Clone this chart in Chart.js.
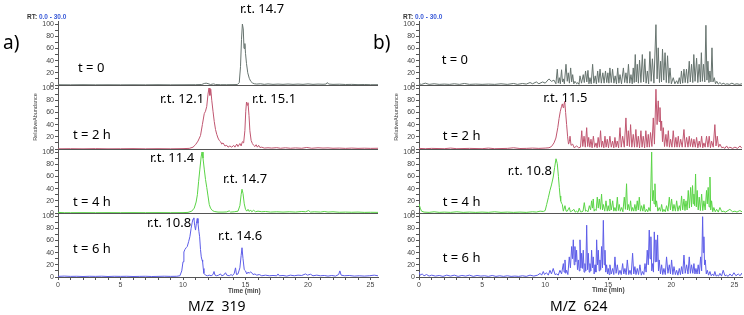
<!DOCTYPE html>
<html>
<head>
<meta charset="utf-8">
<script src="https://cdn.jsdelivr.net/npm/chart.js@4.4.1/dist/chart.umd.min.js"></script>
<style>
  body { margin: 0; background: #fff; width: 744px; height: 315px; position: relative; overflow: hidden; font-family: "Noto Sans", sans-serif; }
  canvas { position: absolute; top: 0; }
  #chartA { left: 0; }
  #chartB { left: 380px; }
  .txt { position: absolute; white-space: nowrap; line-height: 1; color: #000; }
  .panel { font-size: 19px; }
  .rt { font-family: "Liberation Sans", sans-serif; font-size: 6.5px; font-weight: bold; color: #333; }
  .rt span { color: #3b5bd8; }
  .time { font-family: "Liberation Sans", sans-serif; font-size: 6.5px; font-weight: bold; color: #444; }
  .mz { font-size: 14px; word-spacing: 4px; }
</style>
</head>
<body>
<canvas id="chartA" width="380" height="315"></canvas>
<canvas id="chartB" width="364" height="315"></canvas>

<div class="txt panel" style="left:3px;top:33px">a)</div>
<div class="txt panel" style="left:373px;top:33px">b)</div>
<div class="txt rt" style="left:27px;top:14px">RT: <span>0.0 - 30.0</span></div>
<div class="txt rt" style="left:403px;top:14px">RT: <span>0.0 - 30.0</span></div>
<div class="txt time" style="left:228px;top:288px">Time (min)</div>
<div class="txt time" style="left:592px;top:287px">Time (min)</div>
<div class="txt mz" style="left:188px;top:299px">M/Z 319</div>
<div class="txt mz" style="left:550px;top:299px">M/Z 624</div>

<script>
// retention time (min), relative abundance (%)

// M/Z 319
const a0 = [[0,0.4],[1,0.3],[2,0.5],[3,0.3],[4,0.4],[5,0.3],[6,0.4],[7,0.3],[8,0.5],[9,0.3],[10,0.4],[11,0.5],[11.5,0.8],[11.7,2.5],[11.85,3],[12.0,2.2],[12.2,0.8],[12.45,1.8],[12.6,0.8],[13,0.5],[13.5,0.5],[14,0.6],[14.35,0.8],[14.5,4],[14.6,30],[14.68,75],[14.75,100],[14.82,92],[14.88,60],[14.95,68],[15.0,52],[15.08,35],[15.18,20],[15.3,11],[15.42,6],[15.55,3.5],[15.7,2],[15.9,1.5],[16.2,2],[16.5,1],[16.8,1.8],[17.2,1],[17.6,1.5],[18,1],[18.4,1.6],[18.8,1],[19.2,1.5],[19.6,1],[20,1.8],[20.4,1],[20.8,1.5],[21.2,1.2],[21.45,1.5],[21.55,4],[21.65,1.5],[22,1],[22.5,1.3],[23,0.8],[23.5,1],[24,0.6],[24.5,0.8],[25,0.5],[25.6,0.5]];
const a1 = [[0,0.3],[1,0.5],[2,0.3],[3,0.6],[4,0.3],[5,0.4],[6,0.6],[7,0.3],[8,0.5],[9,0.3],[10,0.6],[10.5,1],[10.8,3],[11.0,7],[11.2,13],[11.4,22],[11.55,40],[11.7,58],[11.8,62],[11.9,70],[12.0,90],[12.08,100],[12.15,88],[12.22,98],[12.3,80],[12.4,62],[12.5,45],[12.6,32],[12.7,24],[12.8,18],[12.9,14],[13.0,12],[13.1,8],[13.2,10],[13.35,5],[13.5,6],[13.6,3],[13.75,5],[13.9,3],[14.05,6],[14.15,3],[14.3,8],[14.4,4],[14.55,9],[14.65,5],[14.75,12],[14.85,10],[14.95,30],[15.02,62],[15.08,77],[15.13,72],[15.2,76],[15.28,55],[15.35,30],[15.45,14],[15.55,9],[15.65,6],[15.75,4],[15.85,7],[15.95,3],[16.05,6],[16.15,2.5],[16.3,3],[16.5,1.5],[16.8,2],[17.1,1.5],[17.5,2.2],[17.8,1.2],[18.2,2],[18.6,1.2],[19,1.8],[19.5,1.2],[19.9,2.5],[20.3,1.2],[20.8,2],[21.2,1.5],[21.6,1.8],[22,1.2],[22.5,1.5],[23,1],[23.5,1.5],[24,1],[24.5,1.3],[25,1],[25.6,1.2]];
const a2 = [[0,1],[0.5,0.5],[1,0.5],[2,0.6],[3,0.5],[4,0.6],[5,0.5],[6,0.6],[7,0.5],[8,0.6],[9,0.5],[10,0.6],[10.4,1],[10.7,3],[10.9,8],[11.05,18],[11.15,30],[11.25,52],[11.35,72],[11.45,92],[11.52,100],[11.6,90],[11.7,72],[11.8,55],[11.9,42],[12.0,28],[12.1,14],[12.2,8],[12.35,4],[12.5,2.5],[12.8,1.5],[13.2,1.5],[13.5,1.8],[13.7,3.5],[13.8,1.5],[14.1,2],[14.4,3],[14.55,12],[14.65,30],[14.72,39],[14.8,32],[14.9,15],[15.0,6],[15.1,3],[15.2,6],[15.3,2.5],[15.4,5],[15.5,2],[15.65,4.5],[15.8,2],[16.0,3],[16.3,2],[16.6,2.5],[17,1.5],[17.5,2],[18,1.5],[18.5,2],[19,1.5],[19.5,2.5],[19.8,2],[20.05,4],[20.2,1.5],[20.5,2],[21,1.5],[21.3,2.5],[21.6,1.5],[22,2],[22.5,1.2],[23,1.5],[23.5,1.2],[24,1.5],[24.5,1],[25,1.2],[25.6,1]];
const a3 = [[0,1],[0.5,1.5],[1,1],[1.5,1.2],[2,0.8],[2.5,1.2],[3,1],[3.5,1.3],[4,0.8],[4.5,1.2],[5,1],[5.5,1.2],[6,0.8],[6.5,1],[7,1.2],[7.5,0.8],[8,1],[8.5,1.3],[9,1],[9.5,1.2],[9.75,2],[9.9,10],[10.0,25],[10.07,41],[10.15,45],[10.25,48],[10.34,50],[10.45,58],[10.55,66],[10.65,80],[10.74,90],[10.8,95],[10.87,97],[10.93,85],[11.0,77],[11.07,88],[11.14,96],[11.2,88],[11.27,75],[11.33,66],[11.4,45],[11.46,33],[11.52,28],[11.57,25],[11.62,14],[11.67,6],[11.8,3],[11.95,2],[12.1,3],[12.25,2],[12.4,4],[12.48,9],[12.56,3],[12.7,2],[12.85,3],[13.0,5],[13.1,2],[13.25,3],[13.4,7],[13.5,3],[13.7,2],[13.85,4],[13.95,2],[14.1,6],[14.2,15],[14.28,4],[14.4,5],[14.55,15],[14.65,35],[14.72,48],[14.8,30],[14.9,12],[15.0,10],[15.1,5],[15.2,8],[15.3,6],[15.4,8.5],[15.5,7],[15.6,4],[15.75,5],[15.9,3],[16.1,4],[16.3,2],[16.6,3],[16.9,2],[17.2,2.5],[17.5,2],[17.6,5],[17.7,2],[18,2.5],[18.3,1.5],[18.6,3],[18.9,2],[19.2,3],[19.5,2.5],[19.8,5],[19.95,3],[20.2,4.5],[20.4,2],[20.7,3],[21,2],[21.3,2.5],[21.6,1.5],[21.9,2.5],[22.2,1.5],[22.45,4],[22.55,10],[22.65,3],[22.9,2],[23.3,2.5],[23.7,1.5],[24.1,2],[24.5,1.5],[24.9,2],[25.3,3],[25.6,2]];

// M/Z 624
const b0 = [[0,2],[0.2,1],[0.5,3],[0.8,1],[1.2,2],[1.6,1],[2.0,1.5],[2.4,1],[2.8,2],[3.2,1],[3.6,2.5],[4.0,1],[4.5,1.5],[5.0,1],[5.5,1.5],[6.0,1],[6.5,2],[7.0,1],[7.5,2.5],[7.8,1],[8.2,2.5],[8.5,1.5],[8.8,4],[9.0,2],[9.3,5],[9.5,2],[9.8,5],[10.0,3],[10.3,10],[10.5,6],[10.7,8],[10.85,2],[10.96,26],[11.04,3],[11.12,12],[11.2,2],[11.3,25],[11.37,5],[11.44,10],[11.52,2],[11.65,34],[11.75,6],[11.83,20],[11.92,3],[12.02,28],[12.1,5],[12.18,17],[12.27,2],[12.36,6],[12.5,2],[12.6,4],[12.68,1],[12.76,15],[12.88,3],[13.02,17],[13.1,4],[13.2,23],[13.3,5],[13.39,24],[13.47,2],[13.55,12],[13.65,2],[13.76,34],[13.86,3],[13.97,15],[14.06,2],[14.16,23],[14.25,4],[14.35,26],[14.45,3],[14.57,20],[14.67,3],[14.78,23],[14.88,4],[14.97,20],[15.05,3],[15.13,28],[15.24,4],[15.34,26],[15.45,3],[15.55,15],[15.65,2],[15.75,28],[15.84,3],[15.93,17],[16.05,2],[16.2,28],[16.3,4],[16.4,20],[16.5,3],[16.6,34],[16.7,3],[16.8,17],[16.9,2],[16.98,28],[17.06,4],[17.14,50],[17.22,5],[17.3,34],[17.39,3],[17.48,41],[17.59,4],[17.7,50],[17.8,5],[17.9,43],[18.0,3],[18.1,23],[18.2,2],[18.3,55],[18.4,6],[18.5,43],[18.62,3],[18.78,99],[18.87,10],[18.96,61],[19.06,4],[19.15,39],[19.22,5],[19.3,59],[19.4,8],[19.5,53],[19.6,4],[19.7,48],[19.8,3],[19.89,28],[20.0,2],[20.15,12],[20.28,2],[20.42,7],[20.52,2],[20.63,12],[20.72,2],[20.8,23],[20.9,3],[21.0,26],[21.1,4],[21.2,26],[21.3,3],[21.42,39],[21.5,5],[21.6,34],[21.7,4],[21.78,50],[21.88,6],[22.0,44],[22.1,4],[22.2,34],[22.3,5],[22.38,53],[22.46,6],[22.55,34],[22.65,5],[22.74,98],[22.82,8],[22.9,39],[22.98,4],[23.06,23],[23.14,5],[23.22,61],[23.3,5],[23.4,12],[23.5,2],[23.6,6],[23.72,1.5],[23.85,4],[24.0,1],[24.1,3],[24.3,1],[24.4,2],[24.6,1],[24.8,3],[25.0,1],[25.2,2],[25.4,1],[25.6,2]];
const b1 = [[0,1],[0.5,0.5],[1,1],[2,0.5],[2.5,1.5],[3,0.5],[4,1],[5,0.5],[5.5,1.5],[6,0.5],[7,1],[7.5,2],[8,0.8],[8.5,1],[9,1.5],[9.5,1],[10,1.5],[10.3,2],[10.5,4],[10.7,10],[10.85,18],[11.0,35],[11.1,50],[11.2,62],[11.3,70],[11.36,74],[11.42,68],[11.48,72],[11.55,78],[11.62,60],[11.7,40],[11.78,20],[11.85,8],[11.92,12],[11.97,21],[12.05,6],[12.18,8],[12.3,2],[12.5,5],[12.65,2],[12.8,3],[12.9,30],[12.98,4],[13.08,21],[13.18,3],[13.29,35],[13.37,4],[13.45,19],[13.54,3],[13.63,16],[13.72,2],[13.82,21],[13.92,3],[14.03,10],[14.12,2],[14.2,19],[14.3,3],[14.39,30],[14.47,3],[14.55,13],[14.65,2],[14.74,21],[14.83,3],[14.92,16],[15.02,2],[15.13,21],[15.24,3],[15.34,13],[15.44,2],[15.53,19],[15.62,3],[15.71,13],[15.82,2],[15.93,35],[16.03,3],[16.14,21],[16.27,3],[16.4,51],[16.5,5],[16.59,30],[16.68,4],[16.77,40],[16.87,3],[16.98,24],[17.08,3],[17.19,32],[17.28,3],[17.38,21],[17.48,2],[17.59,30],[17.68,3],[17.77,21],[17.88,2],[17.98,30],[18.08,3],[18.17,24],[18.26,3],[18.35,27],[18.46,4],[18.57,51],[18.66,8],[18.78,98],[18.87,40],[18.96,79],[19.03,45],[19.1,68],[19.17,30],[19.23,46],[19.3,12],[19.36,35],[19.46,4],[19.57,24],[19.66,4],[19.76,30],[19.85,3],[19.94,16],[20.05,3],[20.15,30],[20.26,3],[20.36,19],[20.45,3],[20.55,21],[20.64,3],[20.74,16],[20.86,3],[21.0,32],[21.1,3],[21.21,19],[21.32,3],[21.42,21],[21.51,4],[21.6,17],[21.7,3],[21.79,16],[21.9,3],[22.0,19],[22.1,2],[22.21,13],[22.3,3],[22.4,21],[22.49,2],[22.58,10],[22.68,3],[22.79,21],[22.9,3],[23.0,21],[23.1,2],[23.19,13],[23.32,3],[23.45,40],[23.54,5],[23.64,21],[23.74,3],[23.85,8],[24.0,2],[24.11,3],[24.25,1],[24.38,5],[24.5,1],[24.64,3],[24.85,1],[25.04,3],[25.25,1],[25.44,5],[25.6,1]];
const b2 = [[0,15],[0.1,8],[0.2,3],[0.4,1.5],[0.8,1],[1.2,2],[1.6,1],[2,1.5],[2.5,1],[3,2],[3.5,1],[4,1.5],[4.5,1],[5,1.5],[5.5,1],[6,2],[6.5,1],[7,1.5],[7.5,1],[8,1.5],[8.5,1],[9,2],[9.3,1.5],[9.6,3],[9.85,2.5],[10.0,4],[10.12,14],[10.25,25],[10.38,37],[10.5,46],[10.64,59],[10.75,75],[10.86,89],[10.96,81],[11.05,60],[11.12,42],[11.18,28],[11.23,20],[11.3,16],[11.36,14],[11.44,3],[11.57,12],[11.66,3],[11.75,3],[11.91,9],[12.0,2],[12.1,3],[12.28,6],[12.38,1.5],[12.49,3],[12.6,1],[12.7,8],[12.8,2],[12.89,2],[13.0,3],[13.1,17],[13.2,3],[13.29,4],[13.4,2],[13.5,12],[13.6,5],[13.68,20],[13.75,8],[13.81,23],[13.88,3],[13.95,6],[14.04,4],[14.13,26],[14.21,8],[14.29,23],[14.38,6],[14.47,31],[14.54,5],[14.61,14],[14.72,3],[14.82,20],[14.92,3],[15.0,12],[15.06,4],[15.13,23],[15.24,5],[15.35,20],[15.44,3],[15.53,9],[15.62,3],[15.72,26],[15.8,4],[15.87,14],[15.96,3],[16.06,9],[16.16,2],[16.27,26],[16.36,6],[16.45,48],[16.52,5],[16.59,14],[16.68,4],[16.77,20],[16.85,3],[16.93,9],[17.02,3],[17.11,14],[17.2,3],[17.3,20],[17.38,5],[17.46,26],[17.55,3],[17.64,12],[17.74,3],[17.83,14],[17.93,2],[18.04,6],[18.13,2],[18.22,9],[18.33,3],[18.44,100],[18.5,20],[18.57,37],[18.63,15],[18.7,48],[18.76,10],[18.83,20],[18.93,3],[19.04,9],[19.14,3],[19.23,14],[19.32,2],[19.41,6],[19.52,2],[19.62,12],[19.73,3],[19.84,26],[19.93,5],[20.02,23],[20.12,3],[20.21,14],[20.32,3],[20.42,20],[20.52,3],[20.63,12],[20.72,4],[20.81,28],[20.9,5],[21.0,23],[21.08,4],[21.16,20],[21.25,5],[21.34,37],[21.43,8],[21.53,42],[21.6,10],[21.68,45],[21.74,15],[21.79,31],[21.85,12],[21.92,64],[21.98,10],[22.05,37],[22.13,5],[22.21,26],[22.3,4],[22.4,31],[22.49,4],[22.58,20],[22.68,5],[22.79,37],[22.85,15],[22.92,42],[22.99,10],[23.06,59],[23.12,5],[23.19,20],[23.28,2],[23.37,9],[23.48,2],[23.59,6],[23.72,1.5],[23.85,9],[24.0,2],[24.11,3],[24.3,1.5],[24.64,6],[24.85,2],[25.04,3],[25.2,1.5],[25.43,4],[25.6,2]];
const b3 = [[0,8],[0.1,3],[0.25,5],[0.4,2],[0.6,4],[0.8,1.5],[1.0,3],[1.3,1.5],[1.6,2.5],[1.9,1],[2.2,3],[2.5,1.5],[2.8,3],[3.1,1],[3.4,2.5],[3.7,1.5],[4.0,3],[4.3,1],[4.6,2.5],[4.9,1.5],[5.2,2],[5.5,1],[5.8,2.5],[6.1,1],[6.4,2],[6.7,1],[7.0,2],[7.3,1],[7.6,1.5],[7.9,1],[8.2,2],[8.5,1],[8.8,3],[9.1,1.5],[9.4,3],[9.6,6],[9.72,3],[9.85,9],[9.95,4],[10.1,7],[10.25,3],[10.38,11],[10.5,5],[10.64,14],[10.78,4],[10.91,5],[11.04,3],[11.17,11],[11.3,5],[11.44,22],[11.5,8],[11.57,28],[11.63,6],[11.7,11],[11.8,4],[11.91,33],[12.0,15],[12.1,50],[12.17,30],[12.23,61],[12.3,20],[12.36,50],[12.43,25],[12.49,44],[12.56,12],[12.63,28],[12.7,10],[12.76,61],[12.83,15],[12.89,39],[12.95,14],[13.02,44],[13.08,8],[13.15,22],[13.22,10],[13.29,85],[13.36,12],[13.42,39],[13.49,8],[13.55,22],[13.62,10],[13.68,44],[13.75,15],[13.81,33],[13.88,5],[13.95,20],[14.02,8],[14.08,61],[14.15,20],[14.21,44],[14.28,10],[14.34,28],[14.4,12],[14.47,50],[14.54,15],[14.61,93],[14.68,20],[14.74,44],[14.8,8],[14.87,20],[14.94,5],[15.0,14],[15.07,4],[15.13,20],[15.24,5],[15.35,14],[15.44,4],[15.53,33],[15.62,6],[15.72,20],[15.82,4],[15.93,11],[16.03,4],[16.14,22],[16.23,5],[16.32,14],[16.42,4],[16.51,28],[16.62,4],[16.72,11],[16.82,4],[16.93,39],[17.02,5],[17.11,17],[17.2,4],[17.3,14],[17.4,4],[17.51,20],[17.62,3],[17.72,9],[17.82,4],[17.91,22],[18.0,8],[18.09,44],[18.17,20],[18.25,77],[18.31,30],[18.38,66],[18.45,10],[18.52,22],[18.58,8],[18.65,74],[18.72,25],[18.78,61],[18.85,25],[18.91,69],[18.98,10],[19.04,28],[19.14,5],[19.23,20],[19.32,4],[19.41,14],[19.52,4],[19.62,33],[19.73,6],[19.84,20],[19.93,5],[20.02,28],[20.12,4],[20.21,17],[20.32,4],[20.42,11],[20.52,3],[20.63,14],[20.72,4],[20.81,17],[20.9,5],[21.0,36],[21.1,6],[21.21,20],[21.32,5],[21.42,33],[21.51,6],[21.6,20],[21.7,6],[21.79,22],[21.87,5],[21.95,14],[22.04,5],[22.13,20],[22.22,5],[22.32,33],[22.4,10],[22.48,99],[22.53,40],[22.58,66],[22.63,20],[22.69,28],[22.77,5],[22.85,11],[22.95,3],[23.06,9],[23.16,2],[23.27,5],[23.36,2],[23.45,9],[23.55,1.5],[23.64,3],[23.74,1.5],[23.85,6],[23.98,1.5],[24.11,11],[24.25,2],[24.38,3],[24.5,1],[24.64,5],[24.8,1.5],[24.96,7],[25.12,2],[25.3,5],[25.45,2],[25.57,6],[25.6,4]];

const runNames = ['t = 0', 't = 2 h', 't = 4 h', 't = 6 h'];
const runColors = ['#66736e', '#c05670', '#5ad446', '#5d5de8'];

// text notes: [text, run index, time, abundance]
const notesA = [
  ['r.t. 14.7', 0, 14.56, 124.6],
  [runNames[0], 0, 1.6, 28],
  ['r.t. 12.1', 1, 8.16, 82],
  ['r.t. 15.1', 1, 15.52, 82],
  [runNames[1], 1, 1.2, 23],
  ['r.t. 11.4', 2, 7.36, 90],
  ['r.t. 14.7', 2, 13.2, 56],
  [runNames[2], 2, 1.2, 18],
  ['r.t. 10.8', 3, 7.12, 88.5],
  ['r.t. 14.6', 3, 12.8, 67],
  [runNames[3], 3, 1.2, 46]
];
const notesB = [
  [runNames[0], 0, 1.8, 41],
  [runNames[1], 1, 1.88, 21],
  ['r.t. 11.5', 1, 9.85, 84],
  [runNames[2], 2, 1.88, 18],
  ['r.t. 10.8', 2, 7.03, 69],
  [runNames[3], 3, 1.88, 31]
];

const axisColor = '#555';
const tickColor = '#444';
const tickFont = { family: 'Liberation Sans', size: 7 };

const notePlugin = {
  id: 'notes',
  afterDatasetsDraw(chart, args, opts) {
    const ctx = chart.ctx;
    ctx.save();
    ctx.font = '13px "Noto Sans"';
    ctx.fillStyle = '#000';
    ctx.textBaseline = 'middle';
    ctx.textAlign = 'left';
    for (const [text, run, t, v] of opts.items) {
      ctx.fillText(text, chart.scales.x.getPixelForValue(t), chart.scales['y' + run].getPixelForValue(v));
    }
    ctx.restore();
  }
};

function runAxis(i) {
  return {
    type: 'linear',
    position: 'left',
    stack: 'runs',
    stackWeight: 1,
    weight: 4 - i,
    min: 0,
    max: 105,
    afterFit: ax => { ax.width = 26; },
    border: { color: axisColor, width: 1 },
    grid: {
      color: c => (c.tick && c.tick.value === 0) ? axisColor : 'rgba(0,0,0,0)',
      tickColor: axisColor,
      tickLength: 3
    },
    ticks: {
      stepSize: 10,
      includeBounds: false,
      autoSkip: false,
      padding: 1,
      color: tickColor,
      font: tickFont,
      callback: v => v % 20 === 0 ? v : ''
    },
    title: {
      display: i === 1,
      text: 'RelativeAbundance',
      color: tickColor,
      font: { family: 'Liberation Sans', size: 5.5 },
      padding: 0
    }
  };
}

function makeChart(id, series, notes, padLeft) {
  const scales = {
    x: {
      type: 'linear',
      min: 0,
      max: 25.6,
      afterFit: ax => { ax.height = 12; },
      border: { color: axisColor },
      grid: { drawOnChartArea: false, tickLength: 3, tickColor: axisColor },
      ticks: {
        stepSize: 1,
        includeBounds: false,
        autoSkip: false,
        maxRotation: 0,
        padding: 1,
        color: tickColor,
        font: tickFont,
        callback: v => v % 5 === 0 ? v : ''
      }
    }
  };
  series.forEach((s, i) => { scales['y' + i] = runAxis(i); });

  return new Chart(document.getElementById(id), {
    type: 'line',
    data: {
      datasets: series.map((s, i) => ({
        label: runNames[i],
        data: s.map(([x, y]) => ({ x, y })),
        yAxisID: 'y' + i,
        borderColor: runColors[i],
        borderWidth: 1,
        pointRadius: 0,
        tension: 0
      }))
    },
    options: {
      responsive: false,
      animation: false,
      events: [],
      layout: { padding: { left: padLeft, right: 2, top: 21, bottom: 26 } },
      scales,
      plugins: {
        legend: { display: false },
        tooltip: { enabled: false },
        notes: { items: notes }
      }
    },
    plugins: [notePlugin]
  });
}

makeChart('chartA', [a0, a1, a2, a3], notesA, 32);
makeChart('chartB', [b0, b1, b2, b3], notesB, 13);
</script>
</body>
</html>
